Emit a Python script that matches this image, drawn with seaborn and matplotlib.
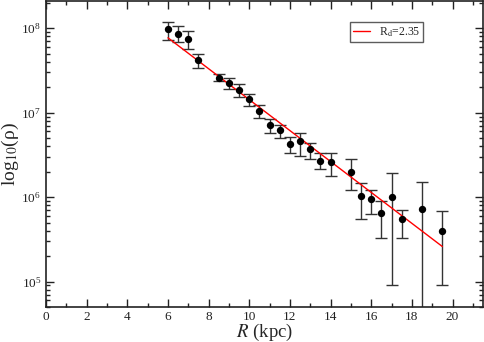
import numpy as np
import pandas as pd
import seaborn as sns
import matplotlib
matplotlib.use("Agg")
from matplotlib import pyplot as plt
from matplotlib.ticker import MultipleLocator, LogLocator, NullFormatter


R_KPC = [6.0, 6.5, 7.0, 7.5, 8.5, 9.0, 9.5, 10.0, 10.5, 11.0, 11.5, 12.0, 12.5,
         13.0, 13.5, 14.0, 15.0, 15.5, 16.0, 16.5, 17.0, 17.5, 18.5, 19.5]
RHO = [9.7e7, 8.6e7, 7.4e7, 4.2e7, 2.6e7, 2.25e7, 1.86e7, 1.45e7, 1.06e7, 7.2e6,
       6.2e6, 4.3e6, 4.6e6, 3.7e6, 2.7e6, 2.6e6, 2.0e6, 1.02e6, 9.5e5, 6.5e5,
       9.9e5, 5.5e5, 7.2e5, 4.0e5]
RHO_LOW = [7.2e7, 6.8e7, 5.6e7, 3.4e7, 2.38e7, 1.9e7, 1.55e7, 1.2e7, 8.7e6, 5.8e6,
           5.0e6, 3.3e6, 3.1e6, 2.85e6, 2.15e6, 1.8e6, 1.2e6, 5.5e5, 6.3e5, 3.3e5,
           9.0e4, 3.3e5, 1.0e3, 9.0e4]
RHO_HIGH = [1.2e8, 1.07e8, 9.2e7, 4.9e7, 2.88e7, 2.6e7, 2.2e7, 1.65e7, 1.24e7, 8.5e6,
            7.2e6, 5.2e6, 5.8e6, 4.4e6, 3.3e6, 3.3e6, 2.85e6, 1.46e6, 1.2e6, 9.1e5,
            1.95e6, 7.0e5, 1.5e6, 6.8e5]

# exponential disc fit, end points of the straight line in log space
FIT_R = [6.0, 19.5]
FIT_RHO = [7.7e7, 2.6e5]
FIT_LABEL = "R$_\\mathrm{d}$=2.35"

sns.set_theme(style="ticks")
plt.rcParams['font.family'] = ['Liberation Serif', 'DejaVu Serif']
plt.rcParams['mathtext.fontset'] = 'stix'

df = pd.DataFrame({"R": R_KPC, "rho": RHO, "lo": RHO_LOW, "hi": RHO_HIGH})
fit = pd.DataFrame({"R": FIT_R, "rho": FIT_RHO})

fig = plt.figure(figsize=(4.85, 3.42), dpi=100)
ax = fig.add_axes([46 / 485, 35 / 342, 437 / 485, 306 / 342])

ax.errorbar(df["R"], df["rho"],
            yerr=[df["rho"] - df["lo"], df["hi"] - df["rho"]],
            fmt="none", ecolor="#333333", elinewidth=1.0, capsize=4, capthick=1.0, zorder=2)
sns.lineplot(data=fit, x="R", y="rho", color="red", linewidth=1.0, label=FIT_LABEL,
             ax=ax, zorder=3)
sns.scatterplot(data=df, x="R", y="rho", color="black", s=28, edgecolor="black",
                linewidth=0, ax=ax, zorder=4)

ax.set_yscale("log")
ax.set_xlim(0, 21.5)
ax.set_ylim(5e4, 2.1e8)

ax.xaxis.set_major_locator(MultipleLocator(2))
ax.xaxis.set_minor_locator(MultipleLocator(1))
ax.yaxis.set_major_locator(LogLocator(base=10, numticks=10))
ax.yaxis.set_minor_locator(LogLocator(base=10, subs=np.arange(2, 10), numticks=10))
ax.yaxis.set_minor_formatter(NullFormatter())

ax.tick_params(which="both", direction="in", top=True, right=True, colors="#222222",
               labelsize=9.5)
ax.tick_params(axis="x", pad=3)
ax.tick_params(which="major", length=6, width=1.0)
ax.tick_params(which="minor", length=3, width=1.0)
for sp in ax.spines.values():
    sp.set_linewidth(1.2)
    sp.set_color("#222222")

ax.set_xlabel("$R$ (kpc)", fontsize=13.5)
ax.set_ylabel("log$_{10}$(ρ)", fontsize=14)
ax.xaxis.set_label_coords(0.5, -0.05)
ax.yaxis.set_label_coords(-0.058, 0.5)

leg = ax.legend(loc="upper right", bbox_to_anchor=(0.863, 0.931), fontsize=8.5,
                frameon=True, fancybox=False, handlelength=1.45, handletextpad=0.75,
                borderpad=0.25, borderaxespad=0)
leg.get_frame().set_edgecolor("#333333")
leg.get_frame().set_linewidth(1.0)

plt.savefig("out.png", dpi=100)
